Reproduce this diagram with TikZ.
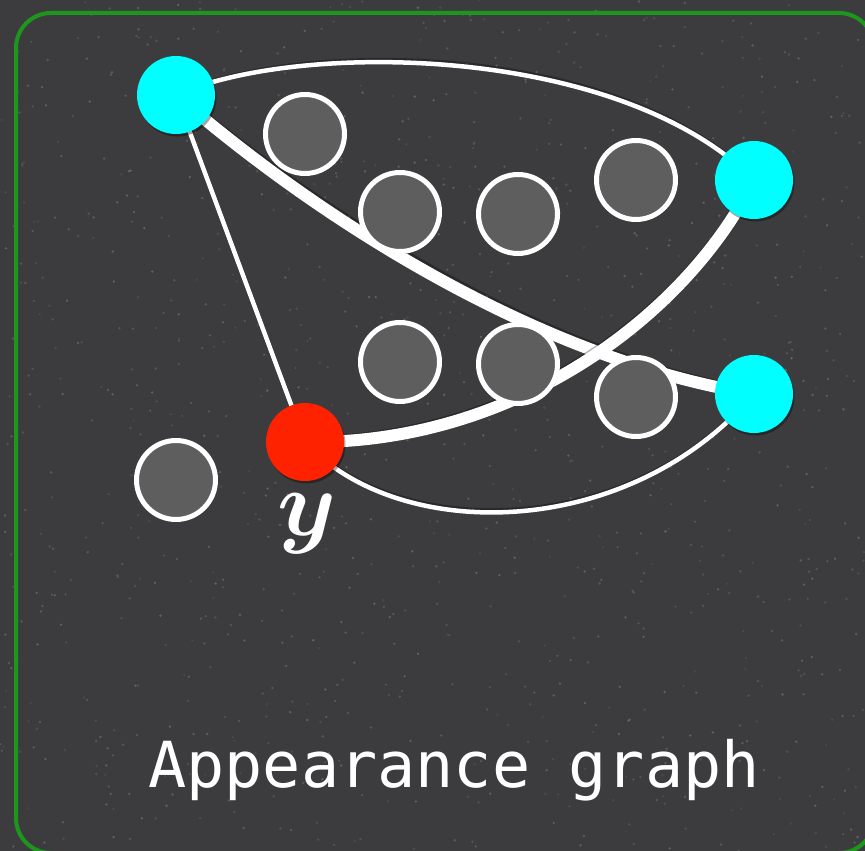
\documentclass[tikz,border=0pt]{standalone}
\usepackage{fontspec}
\usepackage{bm}
\usepackage{graphicx}
\newfontfamily\captionfont{DejaVu Sans Mono}
\newcommand\capfont{\captionfont\fontsize{63.5pt}{64pt}\selectfont}
\usetikzlibrary{shadows}
\definecolor{bgcol}{RGB}{60,60,62}
\definecolor{framecol}{RGB}{28,150,28}
\definecolor{graycol}{RGB}{94,94,94}
\definecolor{cyancol}{RGB}{0,255,255}
\definecolor{redcol}{RGB}{255,34,0}
\pgfdeclarelayer{bglayer}
\pgfdeclarelayer{edgelayer}
\pgfsetlayers{bglayer,edgelayer,main}
\tikzset{
  nshadow/.style={drop shadow={shadow xshift=1.5pt, shadow yshift=-2.5pt, opacity=0.35, fill=black}},
  cnode/.style={circle, inner sep=0pt, minimum size=78pt, fill=cyancol, nshadow},
  rnode/.style={circle, inner sep=0pt, minimum size=78pt, fill=redcol, nshadow},
  gnode/.style={circle, inner sep=0pt, minimum size=79pt, fill=graycol, draw=white, line width=5pt, nshadow},
  eshadow/.style={draw=black, draw opacity=0.3, line width=#1},
  thickedge/.style={draw=white, line width=12pt},
  thinedge/.style={draw=white, line width=4.5pt},
  ylabstyle/.style={text=white, anchor=north, inner sep=0pt},
  capstyle/.style={font=\capfont, text=white, anchor=base, inner sep=0pt},
}
\begin{document}
\begin{tikzpicture}[x=1pt,y=-1pt]
\useasboundingbox (0,0) rectangle (865,851);
\begin{pgfonlayer}{bglayer}
  \clip (0,0) rectangle (865,851);
  \fill[bgcol] (0,0) rectangle (865,851);
  \pgfmathsetseed{11}
  \foreach \i in {1,...,1100} {
    \pgfmathsetmacro\px{rnd*865}
    \pgfmathsetmacro\py{rnd*851}
    \pgfmathsetmacro\op{0.06+0.14*rnd}
    \fill[white, opacity=\op] (\px,\py) circle (1.3pt);
  }
  \draw[framecol, line width=4pt, rounded corners=35pt] (16,13) rectangle (874,853);
\end{pgfonlayer}

\node[cnode] (A) at (176,95) {};
\node[cnode] (B) at (754,180) {};
\node[cnode] (C) at (754,394) {};
\node[rnode] (Y) at (305,442) {};
\node[gnode] (g1) at (305,134) {};
\node[gnode] (g2) at (400,212) {};
\node[gnode] (g3) at (518,214) {};
\node[gnode] (g4) at (636,180) {};
\node[gnode] (g5) at (400,362) {};
\node[gnode] (g6) at (518,364) {};
\node[gnode] (g7) at (636,397) {};
\node[gnode] (g8) at (176,480) {};

\begin{pgfonlayer}{edgelayer}
  \begin{scope}[shift={(1.5pt,2.5pt)}]
    \draw[eshadow=5pt] (A.center) .. controls (300,40) and (620,45) .. (B.center);
    \draw[eshadow=5pt] (A.center) -- (Y.center);
    \draw[eshadow=5pt] (Y.center) .. controls (400,545) and (630,540) .. (C.center);
    \draw[eshadow=13pt] (A.center) .. controls (320,220) and (540,360) .. (C.center);
  \end{scope}
  \draw[thinedge] (A.center) .. controls (300,40) and (620,45) .. (B.center);
  \draw[thinedge] (A.center) -- (Y.center);
  \draw[thinedge] (Y.center) .. controls (400,545) and (630,540) .. (C.center);
  \draw[thickedge] (A.center) .. controls (320,220) and (540,360) .. (C.center);
  \draw[eshadow=13pt, shift={(1.5pt,2.5pt)}] (Y.center) .. controls (520,445) and (690,310) .. (B.center);
  \draw[thickedge] (Y.center) .. controls (520,445) and (690,310) .. (B.center);
\end{pgfonlayer}

\node[ylabstyle] (ylab) at (307,494) {\scalebox{9.4}{$\bm{y}$}};
\node[capstyle] (title) at (454,787) {Appearance graph};
\end{tikzpicture}
\end{document}
